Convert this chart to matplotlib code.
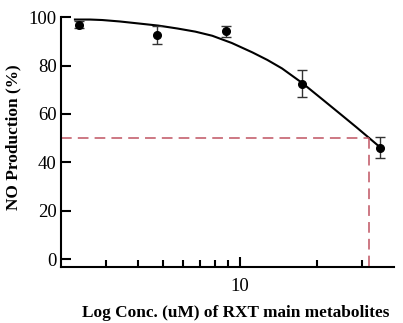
import matplotlib
matplotlib.use('Agg')
import matplotlib.pyplot as plt

plt.rcParams['font.family'] = ['Liberation Serif', 'DejaVu Serif']

# Dados
conc = [2.35, 4.73, 8.8, 17.5, 35.3]
no_prod = [96.8, 92.7, 94.1, 72.5, 46.0]
erro = [1.5, 3.7, 2.4, 5.6, 4.3]

# Curva ajustada
curva_x = [2.27, 2.6, 2.9, 3.4, 4.0, 4.8, 5.7, 6.7, 7.8, 9.3, 11.2, 12.8, 14.6,
           17.5, 21.0, 25.1, 28.5, 32.0, 35.0]
curva_y = [99.0, 99.0, 98.8, 98.2, 97.4, 96.5, 95.3, 94.0, 92.3, 89.3, 85.4, 82.3, 78.8,
           72.8, 66.0, 59.3, 54.5, 50.0, 46.5]

ic50 = 32.0
nivel = 50

fig = plt.figure(figsize=(4.03, 3.23), dpi=100)
ax = fig.add_axes([0.151, 0.173, 0.827, 0.774])

ax.plot(curva_x, curva_y, color='black', lw=1.5, clip_on=False)
ax.errorbar(conc, no_prod, yerr=erro, fmt='o', color='black', ms=5.5,
            ecolor='#333333', elinewidth=1, capsize=3.5, capthick=1, clip_on=False)

# Linhas tracejadas do IC50
cor = '#c05462'
ax.plot([2.0, ic50], [nivel, nivel], color=cor, lw=1.1, dashes=(7, 4))
ax.plot([ic50, ic50], [nivel, -3.3], color=cor, lw=1.1, dashes=(7, 4))

ax.set_xscale('log')
ax.set_xlim(2.0, 40)
ax.set_ylim(-3.3, 100)
ax.set_yticks([0, 20, 40, 60, 80, 100])
ax.set_xticks([10])
ax.set_xticklabels(['10'])
ax.set_xticks([3, 4, 5, 6, 7, 8, 9, 20, 30], minor=True)
ax.xaxis.set_minor_formatter(plt.NullFormatter())

ax.spines['top'].set_visible(False)
ax.spines['right'].set_visible(False)
ax.spines['left'].set_linewidth(1.5)
ax.spines['bottom'].set_linewidth(1.5)

ax.tick_params(axis='y', direction='in', length=7.5, width=1.5, labelsize=13.5, pad=3)
ax.tick_params(axis='x', which='major', direction='in', length=7.5, width=1.5, labelsize=13.5, pad=8)
ax.tick_params(axis='x', which='minor', direction='in', length=5, width=1.5)

ax.set_xlabel('Log Conc. (uM) of RXT main metabolites', fontsize=12.4, fontweight='bold')
ax.set_ylabel('NO Production (%)', fontsize=12.4, fontweight='bold')
ax.xaxis.set_label_coords(0.525, -0.15)
ax.yaxis.set_label_coords(-0.118, 0.52)

plt.savefig('out.png', dpi=100)
